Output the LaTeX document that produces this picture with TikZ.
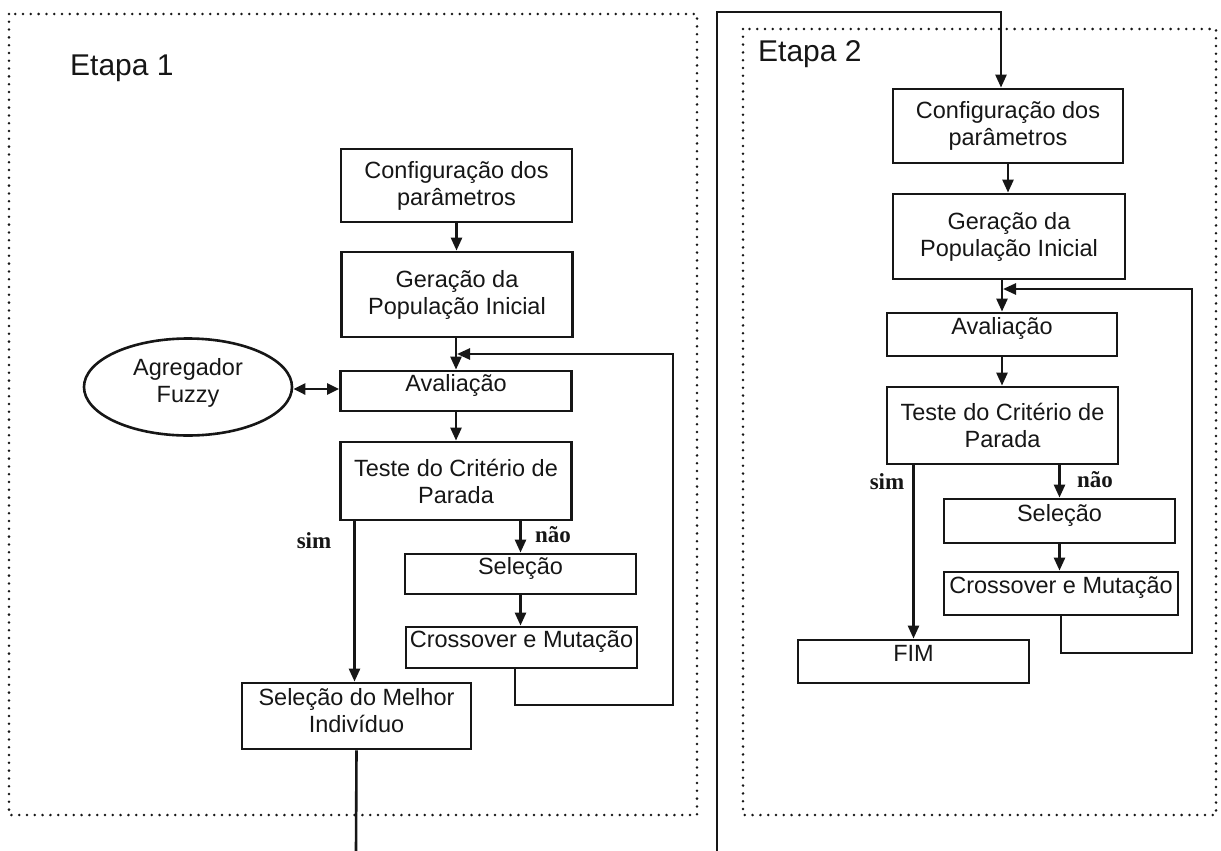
\documentclass[tikz,border=0pt]{standalone}
\usepackage{fontspec}
\setmainfont{Liberation Sans}
\newfontfamily\ynfamily{Liberation Serif}
\usetikzlibrary{arrows.meta,shapes.geometric}
\definecolor{ink}{HTML}{161616}
\newcommand\bxfont{\fontsize{23.5}{27}\selectfont}
\newcommand\etfont{\fontsize{30}{34}\selectfont}
\newcommand\ynfont{\ynfamily\bfseries\fontsize{23}{27}\selectfont}
\tikzset{
  box/.style={draw=ink, text=ink, line width=2.8pt, minimum width=231pt, inner sep=0pt,
    align=center, font=\bxfont},
  oneline/.style={text height=0.72em, text depth=0.66em},
  arr/.style={draw=ink, line width=2.6pt, -{Triangle[length=13pt,width=11pt]}},
  biarr/.style={draw=ink, line width=2.6pt, {Triangle[length=12pt,width=11pt]}-{Triangle[length=12pt,width=11pt]}},
  link/.style={draw=ink, line width=2.6pt},
  frame/.style={draw=ink, line width=2.8pt, line cap=round, dash pattern=on 0pt off 7.8pt},
  yn/.style={text=ink, font=\ynfont, inner sep=0pt},
  stage/.style={text=ink, font=\etfont, inner sep=0pt, anchor=base west}
}
\begin{document}
\begin{tikzpicture}[x=1pt, y=-1pt]
\useasboundingbox (0,0) rectangle (1221,851);

% dotted frames of the two stages
\draw[frame] (9,14) rectangle (697,815);
\draw[frame] (743,29) rectangle (1216,815);
\node[stage] (stage1) at (70,75) {Etapa 1};
\node[stage] (stage2) at (758,62) {Etapa 2};

% ---- stage 1 ----
\node[box, minimum height=73pt] (cfgA) at (456.5,185.5) {Configuração dos\\parâmetros};
\node[box, minimum height=85pt] (genA) at (457,294.5) {Geração da\\População Inicial};
\node[box, oneline, minimum height=40pt] (avA) at (456,391) {Avaliação};
\node[box, minimum height=78pt] (testA) at (456,481) {Teste do Critério de\\Parada};
\node[box, oneline, minimum height=40pt] (selA) at (520.5,574) {Seleção};
\node[box, oneline, minimum height=41pt] (crossA) at (521.5,647.5) {Crossover e Mutação};
\node[box, minimum width=229pt, minimum height=66pt] (bestA) at (356.5,716)
  {Seleção do Melhor\\Indivíduo\rule[-12pt]{0pt}{0pt}};
\node[draw=ink, text=ink, line width=2.6pt, ellipse, minimum width=208pt, minimum height=97pt,
  inner sep=0pt, align=center, font=\bxfont] (fuzzy) at (188,387)
  {Agregador\\Fuzzy\rule[-13pt]{0pt}{0pt}};

\draw[arr] (cfgA.south) -- (cfgA.south |- genA.north);
\draw[arr] (genA.south -| avA.north) -- (avA.north);
\draw[arr] (avA.south) -- (avA.south |- testA.north);
\draw[arr] (testA.south -| selA.north) -- (selA.north);
\node[yn] (noA) at (553,535) {não};
\draw[arr] ([xshift=-2pt]testA.south -| bestA.north) -- ([xshift=-2pt]bestA.north);
\node[yn] (yesA) at (314,541) {sim};
\draw[arr] (selA.south) -- (selA.south |- crossA.north);
\draw[biarr] (fuzzy.east |- 0,389) -- (avA.west |- 0,389);

\coordinate (fbA1) at (673,705);
\coordinate (fbA2) at (673,354);
\draw[arr] ([xshift=-6.5pt]crossA.south) |- (fbA1) -- (fbA2) -- ([xshift=1pt]fbA2 -| avA.north);

\coordinate (outA) at (356,851);
\draw[link] (bestA.south) -- (outA);

% ---- stage 2 ----
\node[box, minimum width=230pt, minimum height=74pt] (cfgB) at (1008,126) {Configuração dos\\parâmetros};
\node[box, minimum width=232pt, minimum height=85pt] (genB) at (1009,236.5) {Geração da\\População Inicial};
\node[box, oneline, minimum width=230pt, minimum height=43pt] (avB) at (1002,334.5) {Avaliação};
\node[box, minimum width=231pt, minimum height=77pt] (testB) at (1002.5,425.5) {Teste do Critério de\\Parada};
\node[box, oneline, minimum width=231pt, minimum height=44pt] (selB) at (1059.5,521) {Seleção};
\node[box, oneline, minimum width=234pt, minimum height=43pt] (crossB) at (1061,593.5) {Crossover e Mutação};
\node[box, oneline, minimum width=231pt, minimum height=43pt] (finB) at (913.5,661.5) {FIM};

\coordinate (inB) at (717,851);
\coordinate (topB) at (717,12);
\draw[arr] (inB) -- (topB) -| ([xshift=-7pt]cfgB.north);
\draw[arr] (cfgB.south) -- (cfgB.south |- genB.north);
\draw[arr] (genB.south -| avB.north) -- (avB.north);
\draw[arr] (avB.south) -- (avB.south |- testB.north);
\draw[arr] (testB.south -| selB.north) -- (selB.north);
\node[yn] (noB) at (1095,480) {não};
\draw[arr] (testB.south -| finB.north) -- (finB.north);
\node[yn] (yesB) at (887,482) {sim};
\draw[arr] (selB.south) -- (selB.south |- crossB.north);

\coordinate (fbB1) at (1192,653);
\coordinate (fbB2) at (1192,289);
\draw[arr] (crossB.south) |- (fbB1) -- (fbB2) -- ([xshift=1pt]fbB2 -| avB.north);
\end{tikzpicture}
\end{document}
